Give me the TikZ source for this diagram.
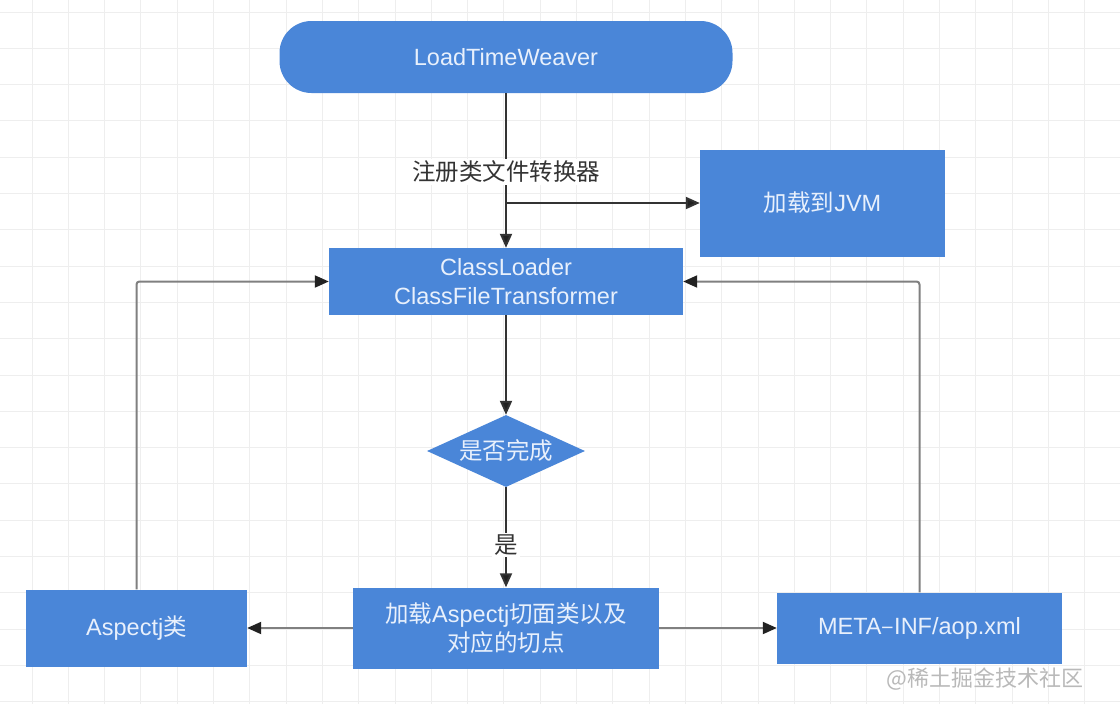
\documentclass[tikz,border=0pt]{standalone}
\usepackage{fontspec}
\setmainfont{Liberation Sans}
\newfontfamily\cjk{Noto Sans CJK SC}
\usetikzlibrary{arrows.meta,shapes.geometric}
\definecolor{boxblue}{RGB}{74,134,216}
\definecolor{boxtext}{RGB}{232,240,252}
\definecolor{gridc}{RGB}{238,238,238}
\definecolor{darkline}{RGB}{51,51,51}
\definecolor{grayline}{RGB}{128,128,128}
\definecolor{tipc}{RGB}{34,34,34}
\tikzset{
  x=1pt, y=-1pt,
  bluebox/.style={fill=boxblue, draw=none, text=boxtext, align=center, inner sep=0pt,
    font=\fontsize{23.5}{29}\selectfont},
  conn/.style={draw=darkline, line width=2pt, -{Triangle[length=14pt,width=12pt,fill=tipc]}},
  gconn/.style={draw=grayline, line width=2pt, -{Triangle[length=14pt,width=12pt,fill=tipc,color=tipc]}},
  lbl/.style={fill=white, text=darkline, inner sep=2pt, font=\fontsize{23.5}{29}\selectfont\cjk},
}
\begin{document}
\begin{tikzpicture}
\useasboundingbox (0,0) rectangle (1120,704);
\fill[white] (0,0) rectangle (1120,704);
% grid
\foreach \k in {0,...,30} {
  \draw[gridc, line width=1pt] ({32+36.3*\k},0) -- ({32+36.3*\k},704);
}
\foreach \k in {0,...,19} {
  \draw[gridc, line width=1pt] (0,{12+36.3*\k}) -- (1120,{12+36.3*\k});
}
% nodes
\node[bluebox, rounded corners=32pt, minimum width=453pt, minimum height=72pt] (ltw) at (506,57) {\raisebox{-4pt}{LoadTimeWeaver}};
\node[bluebox, minimum width=245pt, minimum height=107pt] (jvm) at (822.5,203) {{\cjk 加载到}JVM};
\node[bluebox, minimum width=354pt, minimum height=67pt] (cl) at (506,281.5) {\raisebox{-2pt}{ClassLoader}\\\raisebox{-2pt}{ClassFileTransformer}};
\node[bluebox, diamond, aspect=2.2, minimum width=158pt, minimum height=72pt] (dec) at (506,451) {\cjk 是否完成};
\node[bluebox, minimum width=306pt, minimum height=81pt] (mid) at (506,628) {{\cjk 加载}Aspectj{\cjk 切面类以及}\\{\cjk 对应的切点}};
\node[bluebox, minimum width=221pt, minimum height=77pt] (asp) at (136.5,628) {Aspectj{\cjk 类}};
\node[bluebox, minimum width=285pt, minimum height=71pt] (meta) at (919.5,628) {META{\cjk –}INF/aop.xml};
% connectors
\draw[conn] (ltw.south) -- (cl.north);
\node[lbl] (lreg) at (506,172) {注册类文件转换器};
\coordinate (br) at (506,203);
\draw[conn] (br) -- (jvm.west);
\draw[conn] (cl.south) -- (dec.north);
\draw[conn] (dec.south) -- (mid.north);
\node[lbl] (lyes) at (506,545) {是};
\draw[gconn] (mid.west) -- (asp.east);
\draw[gconn] (mid.east) -- (meta.west);
\draw[gconn, rounded corners=3pt] (asp.north) |- (cl.west);
\draw[gconn, rounded corners=3pt] (meta.north) |- (cl.east);
% watermark
\node[text=gray!55, font=\fontsize{22}{26}\selectfont\cjk, anchor=east] (wm) at (1087,679) {@稀土掘金技术社区};
\end{tikzpicture}
\end{document}
